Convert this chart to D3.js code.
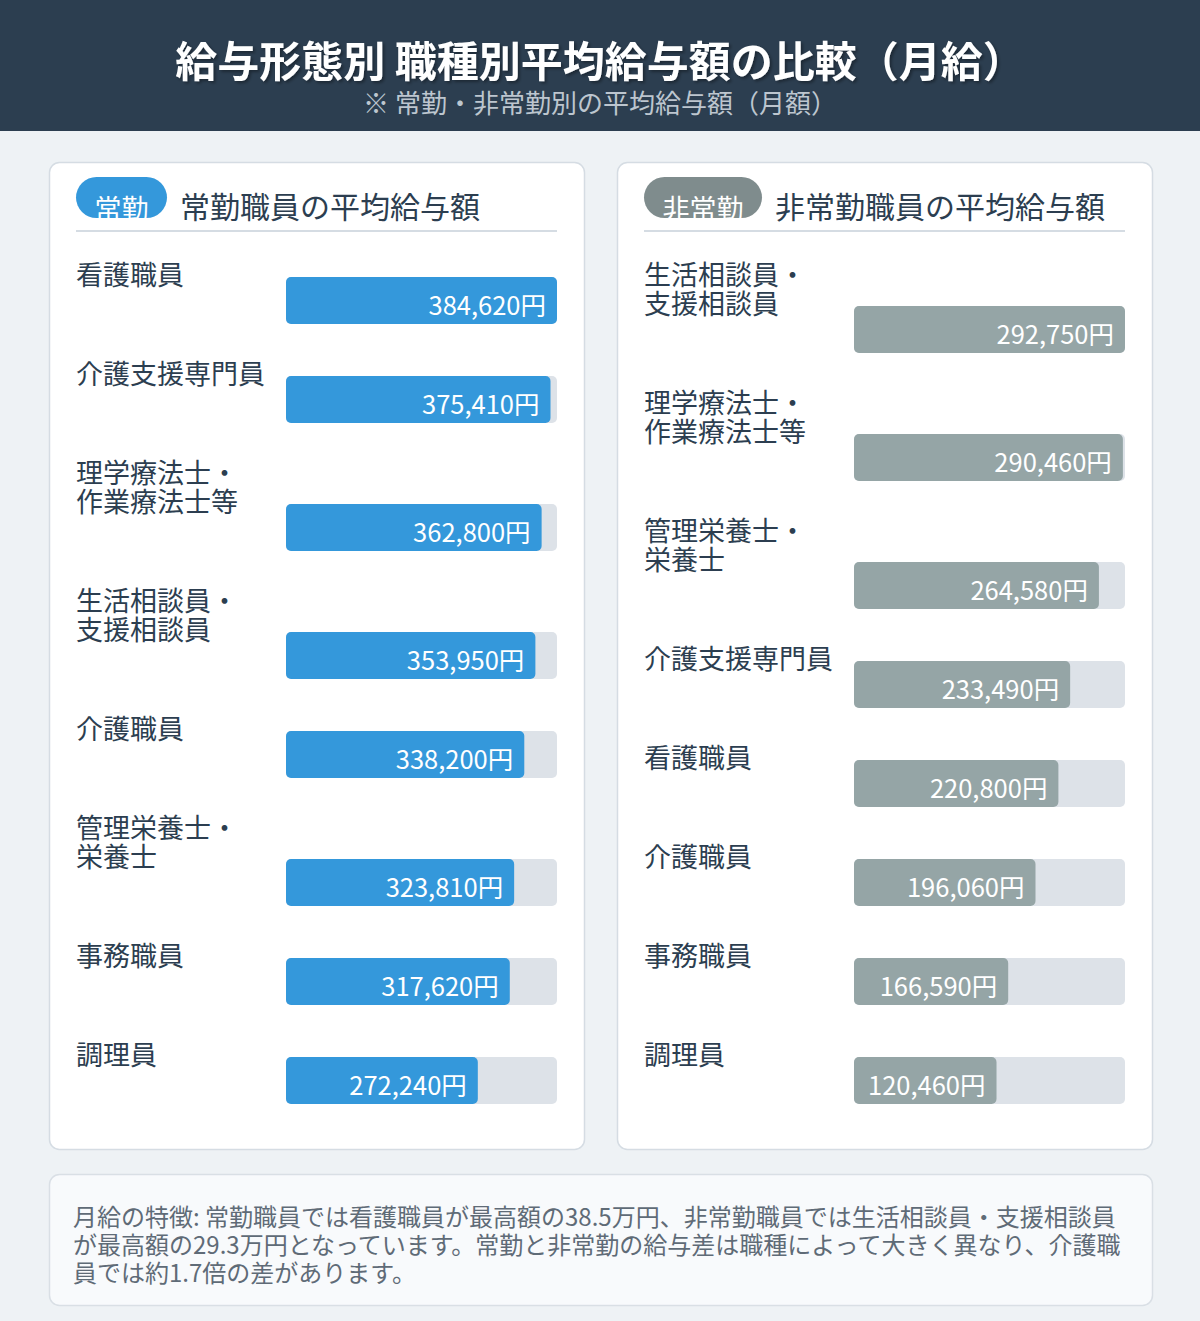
<!DOCTYPE html>
<html lang="ja">
<head>
<meta charset="utf-8">
<script src="https://cdn.jsdelivr.net/npm/d3@7"></script>
<style>
  html, body { margin: 0; padding: 0; background: #eef2f5; }
  svg { display: block; }
  text { font-family: "Noto Sans CJK JP", "Noto Sans", sans-serif; }
</style>
</head>
<body>
<svg id="chart" width="1200" height="1321"></svg>
<script>
// ---- data ----
const titleText = "給与形態別 職種別平均給与額の比較（月給）";
const subtitleText = "※ 常勤・非常勤別の平均給与額（月額）";

const fullTimeBadge = "常勤";
const fullTimeTitle = "常勤職員の平均給与額";
const fullTimeLabels = ["看護職員", "介護支援専門員", "理学療法士・\n作業療法士等", "生活相談員・\n支援相談員", "介護職員", "管理栄養士・\n栄養士", "事務職員", "調理員"];
const fullTimeValues = [384620, 375410, 362800, 353950, 338200, 323810, 317620, 272240];

const partTimeBadge = "非常勤";
const partTimeTitle = "非常勤職員の平均給与額";
const partTimeLabels = ["生活相談員・\n支援相談員", "理学療法士・\n作業療法士等", "管理栄養士・\n栄養士", "介護支援専門員", "看護職員", "介護職員", "事務職員", "調理員"];
const partTimeValues = [292750, 290460, 264580, 233490, 220800, 196060, 166590, 120460];

const noteLines = [
  "月給の特徴: 常勤職員では看護職員が最高額の38.5万円、非常勤職員では生活相談員・支援相談員",
  "が最高額の29.3万円となっています。常勤と非常勤の給与差は職種によって大きく異なり、介護職",
  "員では約1.7倍の差があります。"
];

// ---- drawing ----
const svg = d3.select("#chart");
const fmt = d3.format(",");

const defs = svg.append("defs");
const shadow = defs.append("filter").attr("id", "tshadow").attr("x", "-5%").attr("y", "-20%").attr("width", "110%").attr("height", "150%");
shadow.append("feDropShadow").attr("dx", 2).attr("dy", 2).attr("stdDeviation", 1.5).attr("flood-color", "#000").attr("flood-opacity", 0.35);

svg.append("rect").attr("width", 1200).attr("height", 1321).attr("fill", "#eef2f5");
svg.append("rect").attr("width", 1200).attr("height", 131).attr("fill", "#2c3e50");

svg.append("text").attr("x", 600).attr("y", 77).attr("text-anchor", "middle")
  .attr("font-size", 42).attr("font-weight", 700).attr("fill", "#ffffff")
  .attr("filter", "url(#tshadow)").text(titleText);
svg.append("text").attr("x", 600).attr("y", 113).attr("text-anchor", "middle")
  .attr("font-size", 26).attr("fill", "#bdc6cf").text(subtitleText);

function panel(px, badge, title, labels, values, color, badgeColor, idx) {
  const g = svg.append("g");
  g.append("rect").attr("x", px + 0.5).attr("y", 162.5).attr("width", 535).attr("height", 987)
    .attr("rx", 10).attr("fill", "#ffffff").attr("stroke", "#d5dce3").attr("stroke-width", 1.5);

  // badge
  const bx = px + 27, by = 177, bh = 41;
  const tmp = g.append("text").attr("font-size", 27).text(badge);
  const bw = tmp.node().getComputedTextLength() + 37;
  tmp.remove();
  const clipId = "badgeclip" + idx;
  defs.append("clipPath").attr("id", clipId).append("rect")
    .attr("x", bx).attr("y", by).attr("width", bw).attr("height", bh).attr("rx", 20.5);
  g.append("rect").attr("x", bx).attr("y", by).attr("width", bw).attr("height", bh)
    .attr("rx", 20.5).attr("fill", badgeColor);
  g.append("text").attr("x", bx + bw / 2).attr("y", by + 42).attr("text-anchor", "middle")
    .attr("font-size", 27).attr("fill", "#ffffff").attr("clip-path", `url(#${clipId})`).text(badge);

  g.append("text").attr("x", bx + bw + 13).attr("y", 218).attr("font-size", 30)
    .attr("fill", "#2c3e50").text(title);
  g.append("line").attr("x1", px + 27).attr("x2", px + 508).attr("y1", 231).attr("y2", 231)
    .attr("stroke", "#d5dce3").attr("stroke-width", 2);

  const barX = px + 237, barW = 271, barH = 47;
  const x = d3.scaleLinear().domain([0, d3.max(values)]).range([0, barW]);

  let base = 285;
  labels.forEach((lab, i) => {
    const lines = lab.split("\n");
    const t = g.append("text").attr("x", px + 27).attr("y", base).attr("font-size", 27).attr("fill", "#2c3e50");
    lines.forEach((ln, k) => {
      t.append("tspan").attr("x", px + 27).attr("y", base + k * 28.5).text(ln);
    });
    const barTop = base + (lines.length - 1) * 29 - 8;
    g.append("rect").attr("x", barX).attr("y", barTop).attr("width", barW).attr("height", barH)
      .attr("rx", 5).attr("fill", "#dde2e8");
    const vt = g.append("text").attr("font-size", 25.5).attr("fill", "#ffffff")
      .attr("text-anchor", "end").text(fmt(values[i]) + "円");
    const tw = vt.node().getComputedTextLength();
    const fw = Math.max(x(values[i]), tw + 25);
    g.append("rect").attr("x", barX).attr("y", barTop).attr("width", fw).attr("height", barH)
      .attr("rx", 5).attr("fill", color);
    vt.attr("x", barX + fw - 11).attr("y", barTop + 38).raise();
    base += 99 + (lines.length - 1) * 29;
  });
}

panel(49, fullTimeBadge, fullTimeTitle, fullTimeLabels, fullTimeValues, "#3498db", "#3498db", 0);
panel(617, partTimeBadge, partTimeTitle, partTimeLabels, partTimeValues, "#95a5a6", "#7f8c8d", 1);

// note box
svg.append("rect").attr("x", 49.5).attr("y", 1174.5).attr("width", 1103).attr("height", 131)
  .attr("rx", 10).attr("fill", "#f8fafc").attr("stroke", "#d9dfe5").attr("stroke-width", 1.5);
const note = svg.append("text").attr("font-size", 24).attr("fill", "#5f6b77");
noteLines.forEach((ln, k) => {
  note.append("tspan").attr("x", 73).attr("y", 1226 + k * 28).text(ln);
});
</script>
</body>
</html>
